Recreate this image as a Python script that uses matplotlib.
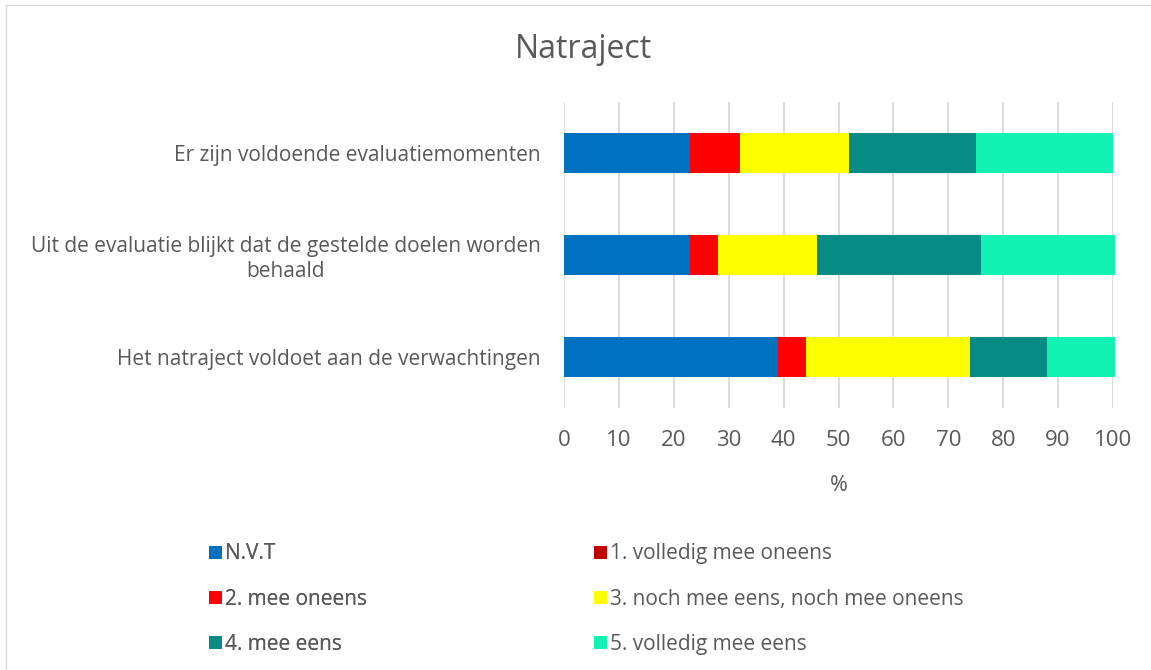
import matplotlib.pyplot as plt
from matplotlib.patches import Patch, Rectangle
import numpy as np

plt.rcParams['font.family'] = ['Open Sans', 'DejaVu Sans']

# data (percentages)
categories = [
    "Er zijn voldoende evaluatiemomenten",
    "Uit de evaluatie blijkt dat de gestelde doelen worden\nbehaald",
    "Het natraject voldoet aan de verwachtingen",
]
series_names = [
    "N.V.T",
    "1. volledig mee oneens",
    "2. mee oneens",
    "3. noch mee eens, noch mee oneens",
    "4. mee eens",
    "5. volledig mee eens",
]
nvt = [23, 23, 39]
volledig_oneens = [0, 0, 0]
oneens = [9, 5, 5]
neutraal = [20, 18, 30]
eens = [23, 30, 14]
volledig_eens = [25, 24.4, 12.4]
colors = ["#0070C0", "#C00000", "#FF0000", "#FFFF00", "#088B85", "#12F2B2"]

x_ticks = list(range(0, 101, 10))

text_col = "#595959"

fig = plt.figure(figsize=(11.51, 6.70), dpi=100)
ax = fig.add_axes([564 / 1151, 1 - 408 / 670, (1113 - 564) / 1151, 306 / 670])

y = np.arange(len(categories))
left = np.zeros(len(categories))
all_series = [nvt, volledig_oneens, oneens, neutraal, eens, volledig_eens]
for vals, name, c in zip(all_series, series_names, colors):
    ax.barh(y, vals, left=left, height=0.39, color=c, label=name, clip_on=False, zorder=3)
    left += np.array(vals)

ax.set_ylim(len(categories) - 0.5, -0.5)
ax.set_xlim(0, 100)
ax.set_xticks(x_ticks)
ax.set_yticks(y)
ax.set_yticklabels(categories, multialignment='center')
ax.tick_params(axis='y', length=0, pad=17, labelsize=15, labelcolor=text_col)
ax.tick_params(axis='x', length=0, pad=16, labelsize=16, labelcolor=text_col)
ax.set_xlabel("%", fontsize=15.5, color=text_col, labelpad=17)
ax.grid(axis='x', color='#D9D9D9', linewidth=1.3, zorder=0)
for s in ax.spines.values():
    s.set_visible(False)

fig.text(583 / 1151, 1 - 50 / 670, "Natraject", ha='center', va='center', fontsize=23, color=text_col)

# legend in two columns, filled row by row
handles = [Patch(facecolor=c, edgecolor='none') for c in colors]
leg_kw = dict(loc='upper left', frameon=False, fontsize=15, handlelength=0.58, handleheight=0.58,
              handletextpad=0.15, labelspacing=1.17, labelcolor=text_col, borderpad=0)
leg1 = fig.legend(handles[0::2], series_names[0::2], bbox_to_anchor=(199 / 1151, 1 - 533 / 670), **leg_kw)
leg2 = fig.legend(handles[1::2], series_names[1::2], bbox_to_anchor=(584 / 1151, 1 - 533 / 670), **leg_kw)
fig.add_artist(leg1)

# chart frame
fig.patches.append(Rectangle((6 / 1151, -0.01), 1.2, 1 - 5 / 670 + 0.01, transform=fig.transFigure,
                             fill=False, edgecolor='#D9D9D9', linewidth=1.0))

fig.savefig("out.png", dpi=100)
